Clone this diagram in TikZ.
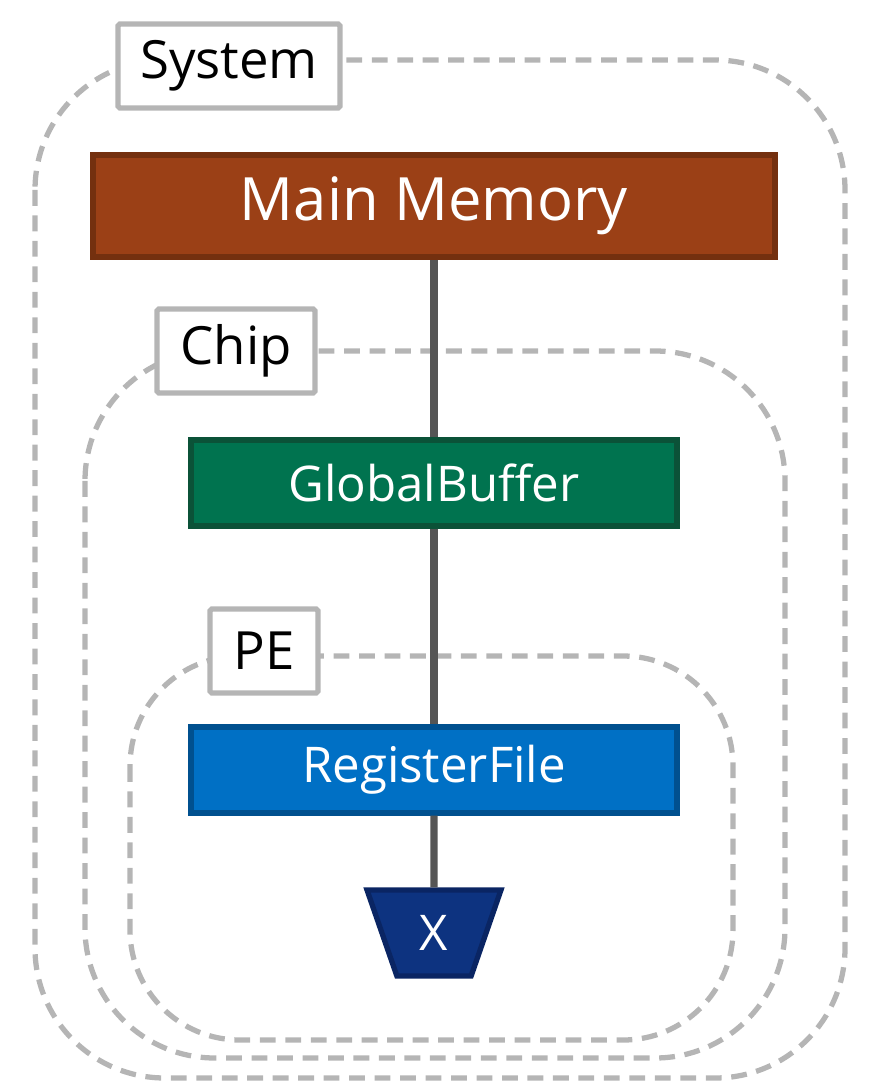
\documentclass[tikz,border=0pt]{standalone}
\usepackage{fontspec}
\setmainfont{Open Sans}
\usepackage{tikz}
\usetikzlibrary{positioning,shapes.geometric,backgrounds}
\definecolor{memfill}{HTML}{9B4016}
\definecolor{memline}{HTML}{74300F}
\definecolor{gbfill}{HTML}{00734F}
\definecolor{gbline}{HTML}{0B5238}
\definecolor{rffill}{HTML}{0070C5}
\definecolor{rfline}{HTML}{00508F}
\definecolor{macfill}{HTML}{0D3380}
\definecolor{macline}{HTML}{0A2563}
\definecolor{dashgray}{HTML}{B5B5B5}
\definecolor{wiregray}{HTML}{555555}

\begin{document}
\begin{tikzpicture}[
  x=0.02cm,y=-0.02cm,
  level/.style={draw=dashgray,line width=3pt,dash pattern=on 9pt off 5.5pt,rounded corners=#1},
  tag/.style={draw=dashgray,fill=white,line width=3pt,rounded corners=1pt,minimum height=1.68cm,inner sep=0pt,font=\fontsize{30}{34}\selectfont},
  unit/.style={line width=3pt,minimum width=9.72cm,minimum height=1.72cm,inner sep=0pt,text=white,font=\fontsize{28}{32}\selectfont},
  wire/.style={draw=wiregray,line width=4pt}
]
\useasboundingbox (0,0) rectangle (874,1092);
% --- nested levels ---
\draw[level=2.6cm] (35,60) rectangle (845,1078);
\draw[level=2.6cm] (85,351) rectangle (785,1058);
\draw[level=2.2cm] (130,656) rectangle (733,1040);
\node[tag,minimum width=4.44cm] (sys) at (229,66) {System};
\node[tag,minimum width=3.16cm] (chip) at (236,351) {Chip};
\node[tag,minimum width=2.16cm] (pe) at (264,651) {PE};
% --- storage hierarchy ---
\node[unit,draw=memline,fill=memfill,minimum width=13.64cm,minimum height=2.04cm,font=\fontsize{34}{38}\selectfont] (mem) at (434,206) {\raisebox{-3pt}{Main Memory}};
\node[unit,draw=gbline,fill=gbfill] (gb) at (434,483) {GlobalBuffer};
\node[unit,draw=rfline,fill=rffill] (rf) at (434,770) {RegisterFile};
\node[unit,draw=macline,fill=macfill,trapezium,trapezium stretches=true,shape border rotate=180,trapezium angle=72,minimum width=2.68cm,minimum height=1.72cm] (mac) at (434,933) {X};
\foreach \a/\b in {mem/gb,gb/rf,rf/mac}{\draw[wire] (\a.south) -- (\b.north);}
\end{tikzpicture}
\end{document}
